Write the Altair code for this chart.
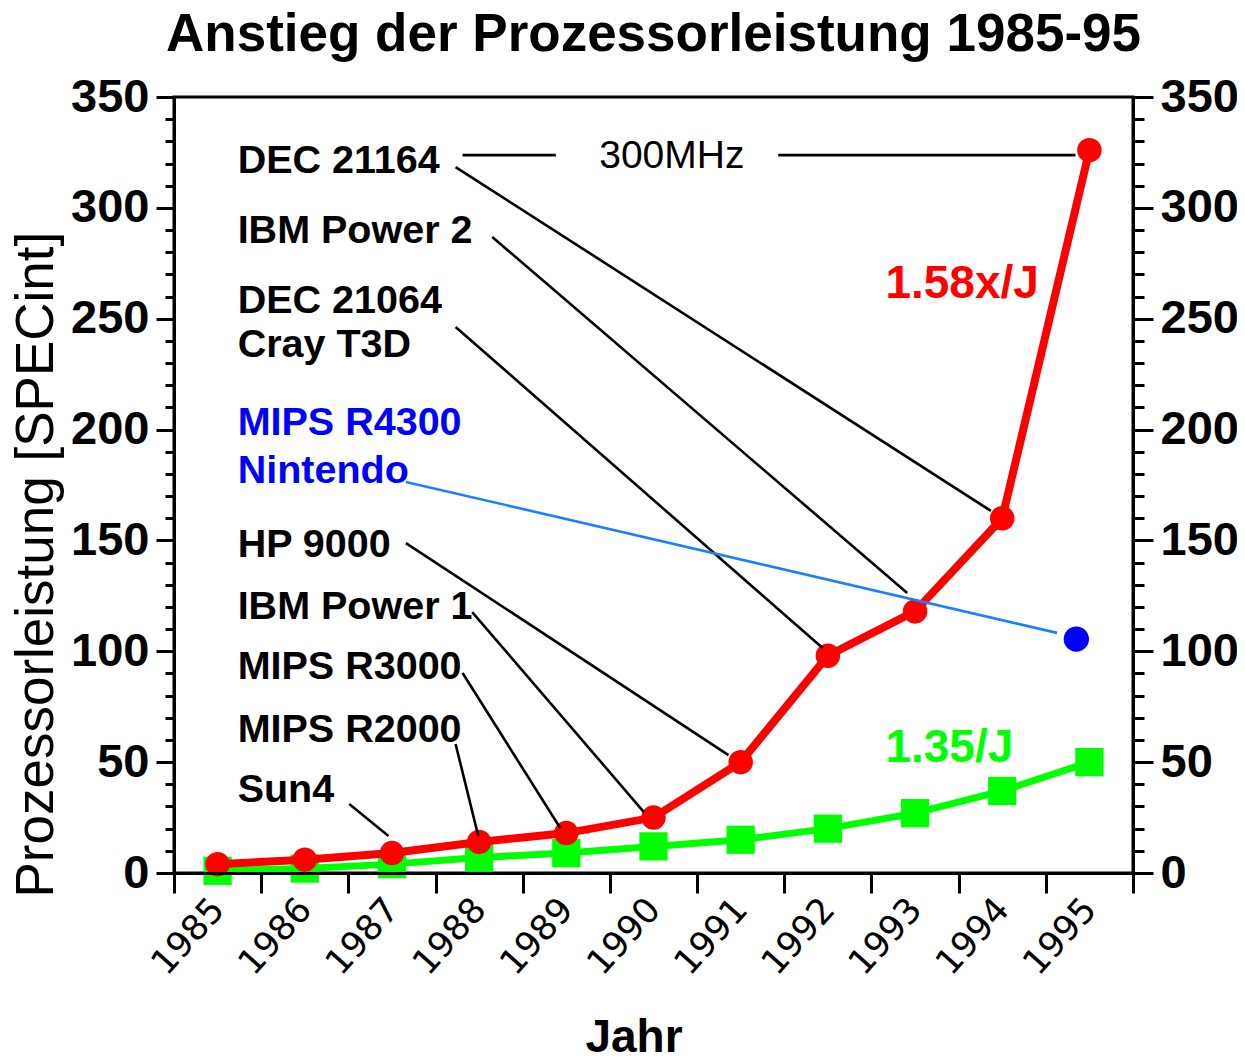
import altair as alt
import pandas as pd

# ---------------- data ----------------
years = [1985, 1986, 1987, 1988, 1989, 1990, 1991, 1992, 1993, 1994, 1995]
red_values = [4, 6, 9, 14, 18, 25, 50, 98, 118, 160, 326]
green_values = [1, 2, 4, 7, 9, 12, 15, 20, 27, 37, 50]

blue_year = [1994.85]
blue_value = [105.5]

label_texts = ["DEC 21164", "IBM Power 2", "DEC 21064", "Cray T3D", "MIPS R4300",
               "Nintendo", "HP 9000", "IBM Power 1", "MIPS R3000", "MIPS R2000", "Sun4"]
label_x = [1985.23, 1985.23, 1985.23, 1985.23, 1985.23, 1985.23,
           1985.23, 1985.23, 1985.23, 1985.23, 1985.23]
label_y = [315.7, 284.2, 252.6, 232.7, 197.6, 175.9, 142.5, 114.6, 87.5, 59.1, 32.0]
label_kind = ["cpu", "cpu", "cpu", "cpu", "nintendo", "nintendo",
              "cpu", "cpu", "cpu", "cpu", "cpu"]

line_x1 = [1987.81, 1991.43, 1987.73, 1988.15, 1987.73, 1987.16, 1987.16, 1987.92, 1987.81, 1987.73, 1986.51]
line_y1 = [323.8, 323.8, 318.4, 286.9, 246.3, 176.4, 148.8, 117.7, 90.2, 58.2, 31.1]
line_x2 = [1988.88, 1994.84, 1993.87, 1992.91, 1991.94, 1994.63, 1990.86, 1989.89, 1988.93, 1987.99, 1986.96]
line_y2 = [323.8, 323.8, 163.3, 126.3, 101.5, 108.3, 53.2, 27.5, 20.3, 16.7, 16.7]
line_kind = ["cpu", "cpu", "cpu", "cpu", "cpu", "nintendo", "cpu", "cpu", "cpu", "cpu", "cpu"]

mhz_text = ["300MHz"]
mhz_x = [1990.21]
mhz_y = [318.0]

rate_texts = ["1.58x/J", "1.35/J"]
rate_x = [1992.66, 1992.66]
rate_y = [259.4, 50.1]
rate_kind = ["red", "green"]

tick_positions = [1984.5 + i for i in range(12)]
major_y = list(range(0, 351, 50))
minor_y = list(range(0, 351, 10))

# ---------------- tables ----------------
series = pd.DataFrame({"year": years, "red": red_values, "green": green_values})
blue_df = pd.DataFrame({"year": blue_year, "v": blue_value})
labels_df = pd.DataFrame({"t": label_texts, "x": label_x, "y": label_y, "k": label_kind})
lines_df = pd.DataFrame({"x1": line_x1, "y1": line_y1, "x2": line_x2, "y2": line_y2, "k": line_kind})
mhz_df = pd.DataFrame({"t": mhz_text, "x": mhz_x, "y": mhz_y})
rate_df = pd.DataFrame({"t": rate_texts, "x": rate_x, "y": rate_y, "k": rate_kind})

FONT = "Liberation Sans"
XS = alt.Scale(domain=[1984.5, 1995.5], nice=False, zero=False)
YS = alt.Scale(domain=[0, 350], nice=False, zero=False)

x_tick_axis = alt.Axis(orient="bottom", values=tick_positions, labels=False, tickSize=20,
                       tickWidth=3, domainWidth=3, grid=False, zindex=1,
                       tickColor="#000000", domainColor="#000000",
                       title="Jahr", titleFontSize=46, titleFontWeight="bold", titleFont=FONT,
                       titleColor="#000000",
                       titleX=459.5, titleY=178, titleAlign="center", titleBaseline="alphabetic")
x_label_axis = alt.Axis(orient="bottom", values=years, ticks=False, tickSize=0, domain=False,
                        labelAngle=-48, labelAlign="right", labelBaseline="middle",
                        labelPadding=30, labelFontSize=35, labelFont="DejaVu Sans",
                        labelColor="#000000",
                        labelFlush=False, labelOverlap=False, format="d", grid=False, title="")
y_left_major = alt.Axis(orient="left", values=major_y, tickSize=18, tickWidth=3, domainWidth=3,
                        tickColor="#000000", domainColor="#000000", labelColor="#000000",
                        labelFontSize=47, labelFontWeight="bold", labelPadding=7, labelFont=FONT,
                        labelOverlap=False, labelFlush=False, grid=False, zindex=1,
                        title="Prozessorleistung [SPECint]", titleFontSize=53, titleColor="#000000",
                        titleFontWeight="normal", titleFont=FONT, titleAngle=270,
                        titleAlign="left", titleBaseline="alphabetic", titleX=-122, titleY=800)
y_left_minor = alt.Axis(orient="left", values=minor_y, tickSize=9, tickWidth=3, labels=False,
                        tickColor="#000000",
                        domain=False, grid=False, title="", zindex=1)
y_right_major = alt.Axis(orient="right", values=major_y, tickSize=20, tickWidth=3, domainWidth=3,
                         tickColor="#000000", domainColor="#000000", labelColor="#000000",
                         labelFontSize=47, labelFontWeight="bold", labelPadding=7, labelFont=FONT,
                         labelOverlap=False, labelFlush=False, grid=False, title="", zindex=1)
y_right_minor = alt.Axis(orient="right", values=minor_y, tickSize=11, tickWidth=3, labels=False,
                         tickColor="#000000",
                         domain=False, grid=False, title="", zindex=1)

base = alt.Chart(series)

green_line = base.mark_line(color="#00ff00", strokeWidth=7).encode(
    x=alt.X("year:Q", scale=XS, axis=x_tick_axis),
    y=alt.Y("green:Q", scale=YS, axis=y_left_major),
)
green_pts = base.mark_point(shape="square", filled=True, size=800, color="#00ff00", opacity=1).encode(
    x=alt.X("year:Q", scale=XS, axis=x_label_axis),
    y=alt.Y("green:Q", scale=YS, axis=y_left_minor),
)
red_line = base.mark_line(color="#ff0000", strokeWidth=8).encode(
    x=alt.X("year:Q", scale=XS, axis=None),
    y=alt.Y("red:Q", scale=YS, axis=y_right_major),
)
red_pts = base.mark_circle(size=600, color="#ff0000", opacity=1).encode(
    x=alt.X("year:Q", scale=XS, axis=None),
    y=alt.Y("red:Q", scale=YS, axis=y_right_minor),
)

kind_scale = alt.Scale(domain=["cpu", "nintendo"], range=["#000000", "#1a80ff"])
connectors = alt.Chart(lines_df).mark_rule(strokeWidth=2.6).encode(
    x=alt.X("x1:Q", scale=XS, axis=None),
    y=alt.Y("y1:Q", scale=YS, axis=None),
    x2="x2:Q",
    y2="y2:Q",
    color=alt.Color("k:N", scale=kind_scale, legend=None),
)

label_scale = alt.Scale(domain=["cpu", "nintendo"], range=["#000000", "#0000ff"])
labels = alt.Chart(labels_df).mark_text(align="left", baseline="alphabetic", fontSize=39.5,
                                        fontWeight="bold", font=FONT).encode(
    x=alt.X("x:Q", scale=XS, axis=None),
    y=alt.Y("y:Q", scale=YS, axis=None),
    text="t:N",
    color=alt.Color("k:N", scale=label_scale, legend=None),
)

mhz = alt.Chart(mhz_df).mark_text(align="center", baseline="alphabetic", fontSize=39,
                                  font=FONT, color="#000000").encode(
    x=alt.X("x:Q", scale=XS, axis=None),
    y=alt.Y("y:Q", scale=YS, axis=None),
    text="t:N",
)

rate_scale = alt.Scale(domain=["red", "green"], range=["#ff0000", "#00ff00"])
rates = alt.Chart(rate_df).mark_text(align="left", baseline="alphabetic", fontSize=46,
                                     fontWeight="bold", font=FONT).encode(
    x=alt.X("x:Q", scale=XS, axis=None),
    y=alt.Y("y:Q", scale=YS, axis=None),
    text="t:N",
    color=alt.Color("k:N", scale=rate_scale, legend=None),
)

blue_pt = alt.Chart(blue_df).mark_circle(size=640, color="#0000ff", opacity=1).encode(
    x=alt.X("year:Q", scale=XS, axis=None),
    y=alt.Y("v:Q", scale=YS, axis=None),
)

chart = alt.layer(
    green_line, green_pts, red_line, red_pts, connectors, labels, mhz, rates, blue_pt
).resolve_axis(
    x="independent", y="independent"
).resolve_scale(
    color="independent"
).properties(
    width=959,
    height=776,
    background="#ffffff",
    autosize=alt.AutoSizeParams(type="none"),
    padding={"left": 166, "top": 89, "right": 104, "bottom": 181},
    title=alt.TitleParams("Anstieg der Prozessorleistung 1985-95", fontSize=53, fontWeight="bold",
                          font=FONT, anchor="middle", frame="group", offset=11, color="#000000"),
).configure_view(
    stroke="#000000", strokeWidth=3
).configure_axis(
    labelColor="#000000", tickColor="#000000", domainColor="#000000", titleColor="#000000",
    labelFont=FONT
)

chart.save("out.html", embed_options={"renderer": "svg", "actions": False})
